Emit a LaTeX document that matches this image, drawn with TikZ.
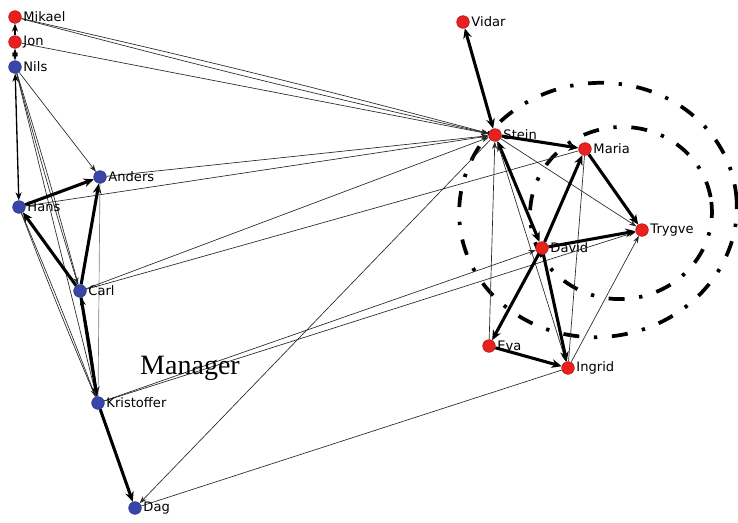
\documentclass[tikz,border=0pt]{standalone}
\usepackage{fontspec}
\setmainfont{Liberation Serif}
\newfontfamily\lblfont{DejaVu Sans}
\usetikzlibrary{arrows.meta,backgrounds}
\definecolor{nodered}{RGB}{232,32,30}
\definecolor{nodeblue}{RGB}{56,70,170}
\definecolor{thinline}{RGB}{40,40,40}
\tikzset{
  person/.style={circle, minimum size=9.5pt, inner sep=0pt, draw=#1!75!black, line width=0.4pt, fill=#1},
  redp/.style={person=nodered},
  bluep/.style={person=nodeblue},
  lbl/.style={font=\lblfont\fontsize{9.8}{11}\selectfont, inner sep=0.6pt, label distance=0.6pt},
  thinedge/.style={draw=thinline, line width=0.5pt},
  thinarr/.style={thinedge, -{Stealth[length=5.5pt,width=3.8pt]}},
  midarr/.style={draw=black, line width=1pt, -{Stealth[length=6pt,width=4.5pt]}},
  thickarr/.style={draw=black, line width=2.3pt, -{Stealth[length=7.5pt,width=6.5pt]}},
  ring/.style={draw=black, line width=2.8pt, dash pattern=on 12pt off 11pt on 2.5pt off 11pt},
}
\begin{document}
\begin{tikzpicture}[x=0.75pt,y=-0.75pt]
\useasboundingbox (0,0) rectangle (738,522);

% people
\node[redp,  label={[lbl]right:Mikael}]     (mikael)  at (15,17)  {};
\node[redp,  label={[lbl]right:Jon}]        (jon)     at (15,42)  {};
\node[bluep, label={[lbl]right:Nils}]       (nils)    at (15,67)  {};
\node[bluep, label={[lbl]right:Anders}]     (anders)  at (100,177) {};
\node[bluep, label={[lbl]right:Hans}]       (hans)    at (19,207) {};
\node[bluep, label={[lbl]right:Carl}]       (carl)    at (80,291) {};
\node[bluep, label={[lbl]right:Kristoffer}] (krist)   at (98,403) {};
\node[bluep, label={[lbl]right:Dag}]        (dag)     at (135,508) {};
\node[redp,  label={[lbl]right:Vidar}]      (vidar)   at (463,22) {};
\node[redp,  label={[lbl]right:Stein}]      (stein)   at (495,135) {};
\node[redp,  label={[lbl]right:Maria}]      (maria)   at (585,149) {};
\node[redp,  label={[lbl]right:Trygve}]     (trygve)  at (642,230) {};
\node[redp,  label={[lbl]right:David}]      (david)   at (542,248) {};
\node[redp,  label={[lbl]right:Eva}]        (eva)     at (489,346) {};
\node[redp,  label={[lbl]right:Ingrid}]     (ingrid)  at (568,368) {};

\node[font=\fontsize{21}{24}\selectfont, inner sep=0pt] (manager) at (190,368) {Manager};

\begin{scope}[on background layer]
% group boundaries
\draw[ring] (598,210) ellipse[x radius=139, y radius=127, rotate=7];
\draw[ring] (621,213) ellipse[x radius=91, y radius=86, rotate=7];

% left group
\draw[midarr] (jon) -- (mikael);
\draw[midarr, {Stealth[length=6pt,width=4.5pt]}-{Stealth[length=6pt,width=4.5pt]}] (nils) -- (jon);
\draw[midarr, {Stealth[length=6pt,width=4.5pt]}-{Stealth[length=6pt,width=4.5pt]}] (nils) -- (hans);
\draw[thinarr] (nils) -- (anders);
\draw[thinedge] (nils) to[bend left=1] (carl);
\draw[thinarr] (nils) to[bend right=1] (carl);
\draw[thinarr] (nils) -- (krist);
\draw[thickarr] (hans) -- (anders);
\draw[thickarr] (carl) -- (hans);
\draw[thickarr] (carl) -- (anders);
\draw[thickarr] (carl) -- (krist);
\draw[midarr] (krist) to[bend right=2] (carl);
\draw[thinarr] (hans) to[bend left=1] (krist);
\draw[thinedge] (hans) to[bend right=1] (krist);
\draw[thinedge, draw=gray] (anders) -- (krist);
\draw[thickarr] (krist) -- (dag);

% links across
\draw[thinarr] (stein) -- (dag);
\draw[thinedge] (dag) -- (ingrid);
\draw[thinarr] (krist) -- (david);
\draw[thinarr] (krist) -- (trygve);
\draw[thinarr] (mikael) to[bend left=1] (stein);
\draw[thinedge] (mikael) to[bend right=1] (stein);
\draw[thinarr] (jon) -- (stein);
\draw[thinarr] (anders) -- (stein);
\draw[thinarr] (hans) -- (stein);
\draw[thinarr] (carl) -- (stein);
\draw[thinedge] (carl) -- (maria);

% right group
\draw[thickarr, {Stealth[length=7.5pt,width=6.5pt]}-{Stealth[length=7.5pt,width=6.5pt]}] (stein) -- (vidar);
\draw[thickarr] (stein) -- (maria);
\draw[thickarr, {Stealth[length=7.5pt,width=6.5pt]}-{Stealth[length=7.5pt,width=6.5pt]}] (stein) -- (david);
\draw[thinarr] (stein) -- (ingrid);
\draw[thinarr] (stein) -- (trygve);
\draw[thinarr] (eva) -- (stein);
\draw[thickarr] (david) -- (maria);
\draw[thickarr] (maria) -- (trygve);
\draw[thickarr] (david) -- (trygve);
\draw[thickarr] (david) -- (ingrid);
\draw[thickarr] (david) -- (eva);
\draw[thickarr] (eva) -- (ingrid);
\draw[thinedge] (maria) -- (ingrid);
\draw[thinarr] (ingrid) -- (trygve);
\end{scope}
\end{tikzpicture}
\end{document}
